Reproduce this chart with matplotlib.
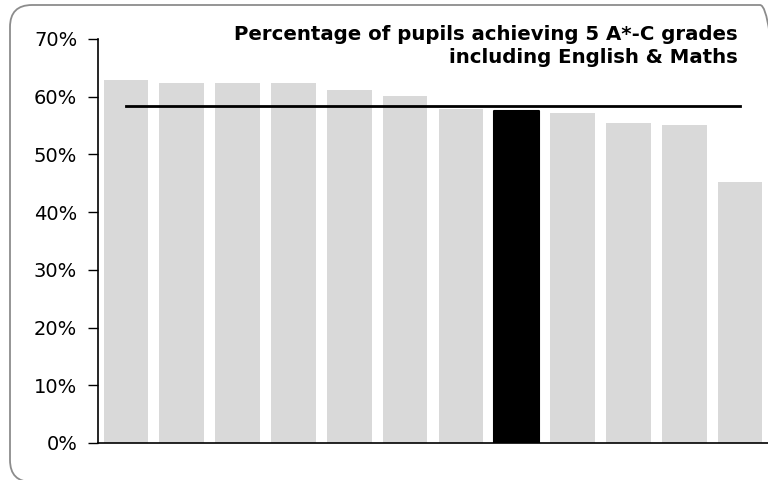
import matplotlib
matplotlib.use("Agg")
import matplotlib.pyplot as plt
from matplotlib.patches import FancyBboxPatch
from matplotlib.transforms import IdentityTransform
from matplotlib.ticker import PercentFormatter

values = [62.9, 62.4, 62.3, 62.3, 61.2, 60.2, 57.9, 57.6, 57.2, 55.4, 55.1, 45.2]
highlight_index = 7
average = 58.4
title = "Percentage of pupils achieving 5 A*-C grades\nincluding English & Maths"
yticks = [0, 10, 20, 30, 40, 50, 60, 70]

fig = plt.figure(figsize=(7.68, 4.8), dpi=100)
ax = fig.add_axes([98/768, 1-443/480, 670/768, (443-39)/480])

x = list(range(len(values)))
colors = ["#d9d9d9"] * len(values)
colors[highlight_index] = "#000000"
bars = ax.bar(x, values, width=0.8, color=colors, zorder=2)
bars[highlight_index].set_edgecolor("#000000")
bars[highlight_index].set_linewidth(1.5)
bars[highlight_index].set_joinstyle("round")

ax.plot([0, 11], [average, average], color="black", linewidth=2, zorder=3)

ax.set_xlim(-0.5, len(values) - 0.5)
ax.set_ylim(0, 70)
ax.set_yticks(yticks)
ax.yaxis.set_major_formatter(PercentFormatter(decimals=0))
ax.set_xticks([])
ax.tick_params(axis="y", length=7, width=1, labelsize=14, pad=8, colors="black")
for s in ["top", "right"]:
    ax.spines[s].set_visible(False)
for s in ["left", "bottom"]:
    ax.spines[s].set_linewidth(1.2)
    ax.spines[s].set_color("black")

fig.text(738/768, 1-63/480, title, ha="right", va="baseline", fontsize=14.2,
         fontweight="bold", linespacing=1.3, multialignment="right")

# rounded frame in pixel coordinates (origin bottom-left)
border = FancyBboxPatch((10, -2), 772, 477,
                        boxstyle="round,pad=0,rounding_size=22",
                        transform=IdentityTransform(),
                        facecolor="none", edgecolor="#8c8c8c", linewidth=1.3,
                        clip_on=False)
fig.patches.append(border)

fig.savefig("out.png", dpi=100)
